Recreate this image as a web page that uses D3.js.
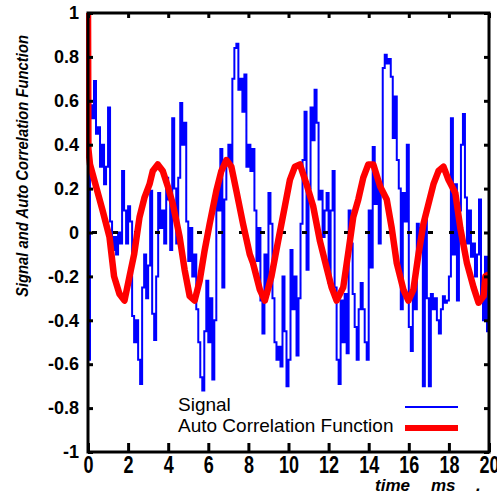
<!DOCTYPE html>
<html>
<head>
<meta charset="utf-8">
<script src="https://cdn.jsdelivr.net/npm/d3@7.9.0/dist/d3.min.js"></script>
<style>
  html, body { margin: 0; padding: 0; background: #fff; }
  svg { display: block; }
  text { font-family: "Liberation Sans", Arial, Helvetica, sans-serif; fill: #000; }
</style>
</head>
<body>
<svg id="chart" width="497" height="499"></svg>
<script>
// signal sampled every 0.1 ms, 0 .. 20 ms
const signalStep = 0.1;
const signalValues = [
  -0.58, 0.58, 0.52, 0.69, 0.45, 0.48, 0.30, 0.40, 0.22, 0.30,
   0.57, 0.05, -0.08, -0.02, -0.10, 0.00, -0.05, 0.28, 0.10, -0.05,
   0.12, 0.05, -0.38, -0.50, -0.40, -0.58, -0.69, -0.25, -0.10, -0.30,
  -0.15, 0.19, -0.37, -0.49, -0.20, 0.18, 0.02, 0.10, -0.05, 0.25,
   0.15, -0.08, 0.52, 0.20, -0.05, 0.25, 0.59, 0.40, 0.50, 0.05,
  -0.13, 0.02, -0.20, -0.10, -0.35, -0.50, -0.66, -0.72, -0.45, -0.22,
  -0.50, -0.30, -0.67, -0.40, 0.22, 0.10, 0.38, -0.25, 0.15, 0.32,
   0.40, 0.28, 0.70, 0.84, 0.86, 0.65, 0.70, 0.55, 0.72, 0.30,
   0.40, 0.28, 0.38, 0.10, -0.13, 0.02, -0.31, -0.46, -0.10, -0.28,
   0.18, 0.04, -0.30, -0.50, -0.58, -0.52, -0.61, -0.20, -0.45, -0.70,
  -0.58, -0.08, -0.35, -0.20, -0.56, -0.30, 0.04, 0.33, 0.55, -0.17,
   0.20, 0.57, 0.42, 0.65, 0.50, 0.15, 0.19, -0.02, 0.10, 0.18,
  -0.23, 0.10, 0.28, -0.25, -0.58, -0.69, -0.31, -0.50, -0.28, -0.55,
   0.10, -0.05, -0.28, -0.43, -0.58, -0.35, -0.23, -0.35, -0.50, -0.58,
   0.10, -0.16, 0.39, 0.13, 0.25, -0.05, 0.20, 0.75, 0.81, 0.77,
   0.79, 0.71, 0.43, 0.62, 0.33, 0.20, -0.35, 0.18, 0.05, 0.40,
  -0.43, -0.54, -0.25, -0.35, 0.04, -0.05, 0.02, -0.70, 0.07, -0.30,
  -0.70, -0.28, -0.35, -0.30, -0.40, -0.46, -0.35, -0.29, -0.32, -0.31,
  -0.20, 0.52, -0.10, 0.22, -0.31, 0.10, 0.40, 0.54, 0.16, -0.05,
   0.10, -0.11, -0.05, -0.20, -0.10, 0.15, -0.29, -0.40, -0.11, -0.45,
  -0.63
];

// auto correlation function
const acfTime = [
  0, 0.02, 0.1, 0.4, 0.73, 1.07, 1.3, 1.57, 1.82, 2.07, 2.3, 2.57, 2.82, 3.07, 3.23, 3.48, 3.73, 3.98,
  4.23, 4.57, 4.82, 5.07, 5.32, 5.57, 5.82, 6.07, 6.4, 6.65, 6.9, 7.15, 7.4, 7.73, 8.07, 8.23, 8.57, 8.82,
  9.15, 9.48, 9.82, 10.07, 10.32, 10.57, 10.9, 11.23, 11.57, 11.9, 12.15, 12.4, 12.73, 13.0, 13.23, 13.48,
  13.73, 13.98, 14.23, 14.57, 14.9, 15.15, 15.4, 15.73, 15.98, 16.23, 16.48, 16.73, 16.98, 17.23, 17.48,
  17.73, 17.98, 18.32, 18.57, 18.9, 19.23, 19.48, 19.73, 19.82, 20.0
];
const acfValue = [
  1.0, 0.38, 0.31, 0.21, 0.10, -0.02, -0.20, -0.28, -0.31, -0.20, -0.10, 0.07, 0.16, 0.22, 0.28, 0.31, 0.28, 0.21,
  0.13, -0.02, -0.17, -0.29, -0.31, -0.22, -0.08, 0.04, 0.19, 0.28, 0.33, 0.30, 0.19, 0.04, -0.10, -0.14, -0.26, -0.31,
  -0.20, -0.04, 0.12, 0.24, 0.30, 0.31, 0.22, 0.12, -0.04, -0.16, -0.25, -0.31, -0.25, -0.08, 0.07, 0.15,
  0.25, 0.31, 0.31, 0.21, 0.15, 0.02, -0.14, -0.26, -0.31, -0.26, -0.10, 0.04, 0.13, 0.22, 0.28,
  0.30, 0.24, 0.18, 0.02, -0.14, -0.25, -0.32, -0.29, -0.20, -0.19
];

const xTicks = [0, 2, 4, 6, 8, 10, 12, 14, 16, 18, 20];
const yTicks = [-1, -0.8, -0.6, -0.4, -0.2, 0, 0.2, 0.4, 0.6, 0.8, 1];
const legendLabels = ["Signal", "Auto Correlation Function"];

const plotLeft = 88, plotRight = 489, plotTop = 13, plotBottom = 452;

const x = d3.scaleLinear().domain([0, 20]).range([plotLeft, plotRight]);
const y = d3.scaleLinear().domain([-1, 1]).range([plotBottom, plotTop]);

const svg = d3.select('#chart');

svg.append('rect').attr('width', 497).attr('height', 499).attr('fill', '#fff');

svg.append('clipPath').attr('id', 'plot-clip')
  .append('rect')
  .attr('x', plotLeft - 2).attr('y', plotTop)
  .attr('width', plotRight - plotLeft + 2).attr('height', plotBottom - plotTop);

const signal = signalValues.map((v, i) => [i * signalStep, v]);
const acf = acfTime.map((t, i) => [t, acfValue[i]]);

const line = d3.line().x(d => x(d[0])).y(d => y(d[1]));
const stepLine = d3.line().x(d => x(d[0])).y(d => y(d[1])).curve(d3.curveStepAfter);

const plot = svg.append('g').attr('clip-path', 'url(#plot-clip)');

plot.append('path')
  .attr('d', stepLine(signal))
  .attr('fill', 'none')
  .attr('stroke', '#0000ff')
  .attr('stroke-width', 2);

// zero line
plot.append('line')
  .attr('x1', x(0)).attr('x2', x(20))
  .attr('y1', y(0)).attr('y2', y(0))
  .attr('stroke', '#000')
  .attr('stroke-width', 3)
  .attr('stroke-dasharray', '5,16')
  .attr('stroke-dashoffset', -4);

plot.append('path')
  .attr('d', line(acf))
  .attr('fill', 'none')
  .attr('stroke', '#ff0000')
  .attr('stroke-width', 6.5)
  .attr('stroke-linejoin', 'round');

// axes, ticks pointing inward
function styleAxis(g) {
  g.select('.domain').remove();
  g.selectAll('.tick line').attr('stroke', '#000').attr('stroke-width', 3);
}

svg.append('g')
  .attr('transform', `translate(${plotLeft},0)`)
  .call(d3.axisLeft(y).tickValues(yTicks).tickSize(-5).tickPadding(9).tickFormat(d => String(d)))
  .call(styleAxis)
  .call(g => g.selectAll('text')
    .attr('font-size', 18).attr('font-weight', 'bold')
    .attr('font-family', '"Liberation Sans", Arial, sans-serif'));

svg.append('g')
  .attr('transform', `translate(${plotRight},0)`)
  .call(d3.axisRight(y).tickValues(yTicks).tickSize(-5).tickFormat(''))
  .call(styleAxis);

svg.append('g')
  .attr('transform', `translate(0,${plotTop})`)
  .call(d3.axisTop(x).tickValues(xTicks).tickSize(-5).tickFormat(''))
  .call(styleAxis);

svg.append('g')
  .attr('transform', `translate(0,${plotBottom})`)
  .call(d3.axisBottom(x).tickValues(xTicks).tickSize(-9).tickFormat(d => String(d)))
  .call(styleAxis)
  .call(g => g.selectAll('text')
    .attr('y', 4)
    .attr('transform', 'scale(1,1.28)')
    .attr('font-size', 18).attr('font-weight', 'bold')
    .attr('font-family', '"Liberation Sans", Arial, sans-serif'));

// frame
svg.append('rect')
  .attr('x', plotLeft).attr('y', plotTop)
  .attr('width', plotRight - plotLeft).attr('height', plotBottom - plotTop)
  .attr('fill', 'none')
  .attr('stroke', '#000')
  .attr('stroke-width', 3);

// y label
svg.append('text')
  .attr('transform', 'translate(28,297) rotate(-90)')
  .attr('font-size', 17)
  .attr('font-weight', 'bold')
  .attr('font-style', 'italic')
  .attr('textLength', 262)
  .attr('lengthAdjust', 'spacingAndGlyphs')
  .text('Signal and Auto Correlation Function');

// x label
const xLabel = svg.append('g')
  .attr('font-size', 17).attr('font-weight', 'bold').attr('font-style', 'italic');
xLabel.append('text').attr('x', 375).attr('y', 491).text('time');
xLabel.append('text').attr('x', 431).attr('y', 491).text('ms');
xLabel.append('text').attr('x', 476).attr('y', 491).text('.');

// legend
const legendColors = ['#0000ff', '#ff0000'];
const legendWidths = [2, 6];
const legend = svg.append('g');
legendLabels.forEach((label, i) => {
  const baseY = 411 + i * 21;
  legend.append('text')
    .attr('x', 178).attr('y', baseY)
    .attr('font-size', 19)
    .text(label);
  legend.append('line')
    .attr('x1', 405).attr('x2', 458)
    .attr('y1', baseY - 4).attr('y2', baseY - 4)
    .attr('stroke', legendColors[i])
    .attr('stroke-width', legendWidths[i]);
});
</script>
</body>
</html>
